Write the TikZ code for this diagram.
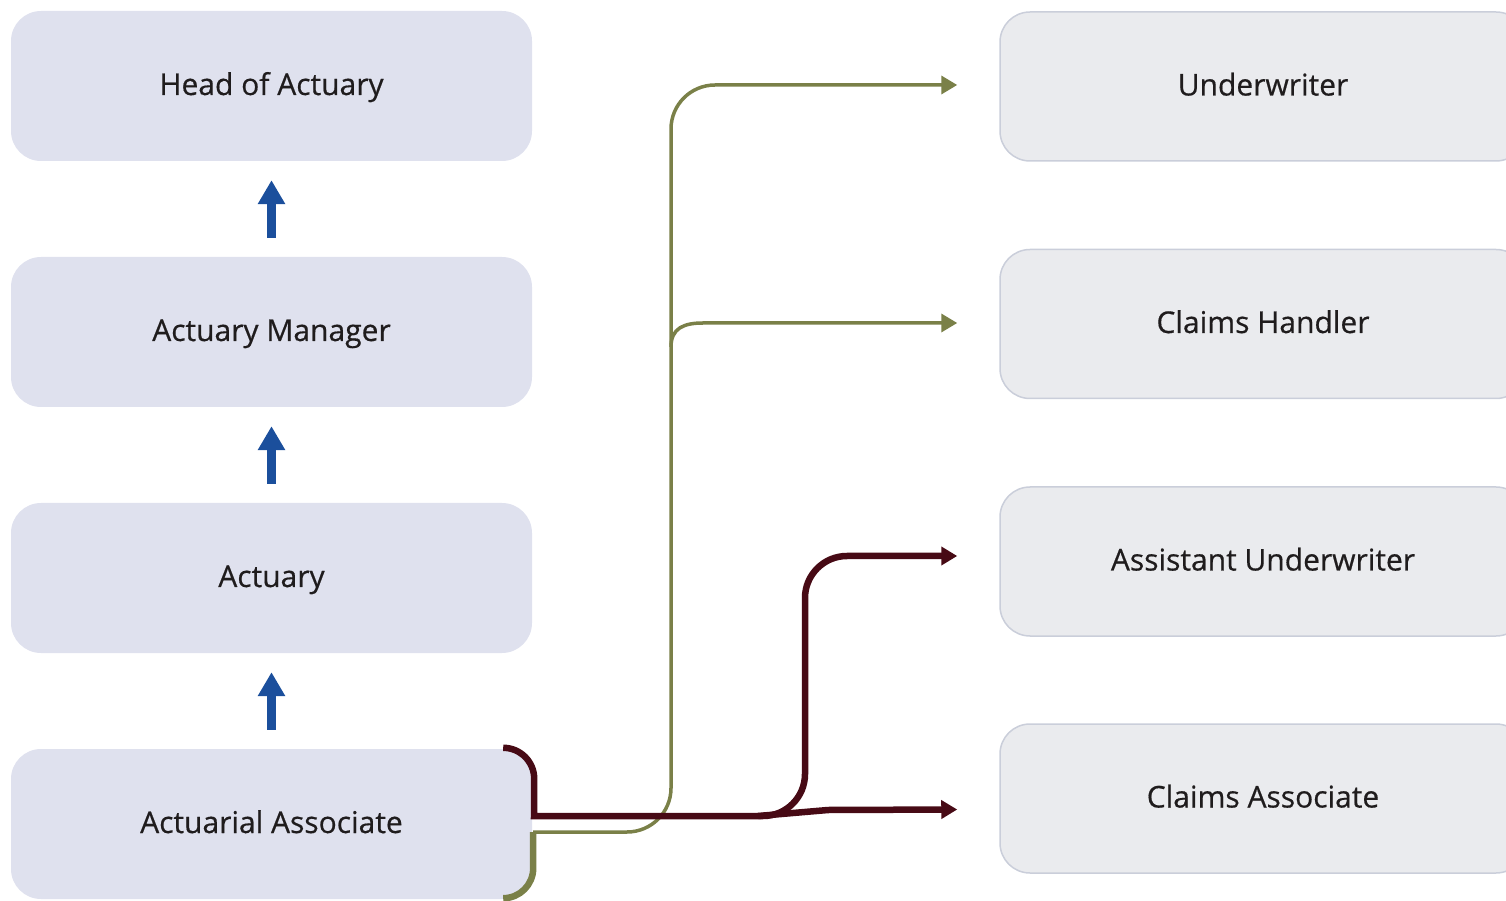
\documentclass[tikz,border=0pt]{standalone}
\usepackage{fontspec}
\setmainfont{Open Sans}
\newfontface\labelface{Open Sans}[FakeBold=0.5]
\usetikzlibrary{arrows.meta,calc}
\definecolor{leftfill}{HTML}{DFE1EE}
\definecolor{rightfill}{HTML}{EAEBEE}
\definecolor{rightline}{HTML}{CACEDA}
\definecolor{upblue}{HTML}{1B4F9C}
\definecolor{olive}{HTML}{7A8048}
\definecolor{wine}{HTML}{470A15}
\definecolor{ink}{HTML}{1F1C1D}

\begin{document}
\begin{tikzpicture}[x=1pt,y=1pt,
  label font/.style={font=\labelface\fontsize{30}{36}\selectfont, text=ink,
    text height=24pt, text depth=6pt},
  lbox/.style={rounded corners=30pt, fill=leftfill, minimum width=521pt,
    minimum height=150pt, inner sep=0pt, label font},
  rbox/.style={rounded corners=30pt, fill=rightfill, draw=rightline,
    line width=1.5pt, minimum width=526pt, minimum height=149pt,
    inner sep=0pt, label font},
  uparrow/.style={draw=upblue, line width=8.5pt,
    -{Triangle[length=24pt,width=26pt]}},
  olivearrow/.style={draw=olive, line width=3.5pt,
    -{Triangle[length=16pt,width=18pt]}},
  winearrow/.style={draw=wine, line width=6.5pt,
    -{Triangle[length=16pt,width=18pt]}},
]
\useasboundingbox (0,0) rectangle (1506,900);
\clip (0,0) rectangle (1506,900);

% actuarial career ladder
\node[lbox] (h)  at (271.5,814) {Head of Actuary};
\node[lbox] (m)  at (271.5,568) {Actuary Manager};
\node[lbox] (a)  at (271.5,322) {Actuary};
\node[lbox] (aa) at (271.5,76)  {Actuarial Associate};

% lateral moves
\node[rbox] (uw) at (1263,813.5) {Underwriter};
\node[rbox] (ch) at (1263,576)   {Claims Handler};
\node[rbox] (au) at (1263,338.5) {Assistant Underwriter};
\node[rbox] (ca) at (1263,101.5) {Claims Associate};

% promotions
\draw[uparrow] ([yshift=19pt]m.north)  -- ([yshift=-19pt]h.south);
\draw[uparrow] ([yshift=19pt]a.north)  -- ([yshift=-19pt]m.south);
\draw[uparrow] ([yshift=19pt]aa.north) -- ([yshift=-19pt]a.south);

% arrow targets in front of the right column
\coordinate (uwIn) at ($(uw.west)+(-42,1.5)$);
\coordinate (chIn) at ($(ch.west)+(-42,1)$);
\coordinate (auIn) at ($(au.west)+(-42,5.5)$);
\coordinate (caIn) at ($(ca.west)+(-42,-11)$);

% olive route: to Underwriter and Claims Handler
\draw[olive, line width=6.5pt] ($(aa.south east)+(-29,1)$)
  arc[start angle=-90, end angle=0, radius=30] -- ++(0,36);
\draw[olivearrow] (533,68) -- (627,68)
  arc[start angle=-90, end angle=0, radius=44] -- (671,771)
  arc[start angle=180, end angle=90, radius=44] -- (uwIn);
\draw[olivearrow] (671,553) .. controls (671,572) and (684,577) .. (703,577)
  -- (chIn);

% wine route: to Assistant Underwriter and Claims Associate
\draw[winearrow] ($(aa.north east)+(-29,1)$)
  arc[start angle=90, end angle=0, radius=31] -- (534,84) -- (763,84)
  arc[start angle=-90, end angle=0, radius=42] -- (805,302)
  arc[start angle=180, end angle=90, radius=42] -- (auIn);
\draw[winearrow, line join=round] (758,84) -- (828,90) -- (caIn);
\end{tikzpicture}
\end{document}
